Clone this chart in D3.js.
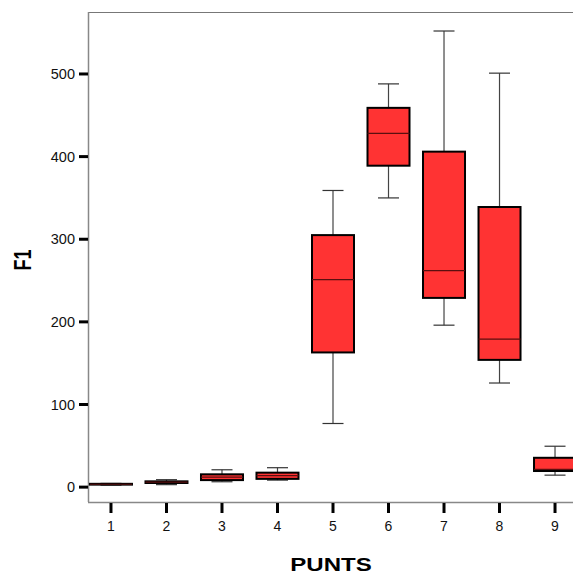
<!DOCTYPE html>
<html>
<head>
<meta charset="utf-8">
<script src="https://cdn.jsdelivr.net/npm/d3@7"></script>
<style>
  body { margin: 0; background: #fff; }
  svg { display: block; }
</style>
</head>
<body>
<svg></svg>
<script>
//--Data
const punts = [1, 2, 3, 4, 5, 6, 7, 8, 9];
const f1Min = [2.5, 3, 6.5, 8.5, 77, 350, 196, 126, 14.5];
const f1Q1 = [3, 5, 8.5, 10, 163, 389, 229, 154, 19.5];
const f1Median = [3.5, 6, 12, 14, 251, 428, 262, 179, 21.5];
const f1Q3 = [4, 7, 15.5, 17.5, 305, 459, 406, 339, 35.5];
const f1Max = [4.5, 9, 21, 23.5, 359, 488, 552, 501, 49.5];
const yTicks = [0, 100, 200, 300, 400, 500];

//Shared info
const canvas = {
  width: 573,
  height: 577,
  left: 88,
  top: 12,
  bottom: 502,
  boxWidth: 42,
  fill: "#ff3333"
};

const boxes = punts.map((p, i) => ({
  punt: p, min: f1Min[i], q1: f1Q1[i], median: f1Median[i], q3: f1Q3[i], max: f1Max[i]
}));

const x = d3.scaleLinear().domain([0.586, 9.414]).range([canvas.left, 578]);
const y = d3.scaleLinear().domain([-18, 575]).range([canvas.bottom, canvas.top]);

const root = d3.select("svg")
  .attr("width", canvas.width)
  .attr("height", canvas.height);

//--Frame
root.append("line")
  .attr("x1", canvas.left).attr("x2", canvas.width)
  .attr("y1", canvas.top + 0.5).attr("y2", canvas.top + 0.5)
  .attr("stroke", "#777").attr("stroke-width", 1);
root.append("line")
  .attr("x1", canvas.left).attr("x2", canvas.width)
  .attr("y1", canvas.bottom + 0.5).attr("y2", canvas.bottom + 0.5)
  .attr("stroke", "#888").attr("stroke-width", 1.5);
root.append("line")
  .attr("x1", canvas.left + 0.5).attr("x2", canvas.left + 0.5)
  .attr("y1", canvas.top).attr("y2", canvas.bottom)
  .attr("stroke", "#888").attr("stroke-width", 1.5);

//--Y axis
const yAxis = root.append("g").attr("class", "y-axis");
yTicks.forEach(t => {
  yAxis.append("line")
    .attr("x1", canvas.left - 9).attr("x2", canvas.left)
    .attr("y1", y(t)).attr("y2", y(t))
    .attr("stroke", "#000").attr("stroke-width", 3);
  yAxis.append("text")
    .attr("x", canvas.left - 13)
    .attr("y", y(t))
    .attr("dy", "0.36em")
    .attr("text-anchor", "end")
    .style("font-family", "Liberation Sans, Arial, sans-serif")
    .style("font-size", "14.5px")
    .attr("fill", "#111")
    .text(t);
});

//--X axis
const xAxis = root.append("g").attr("class", "x-axis");
punts.forEach(p => {
  xAxis.append("line")
    .attr("x1", x(p)).attr("x2", x(p))
    .attr("y1", canvas.bottom + 1).attr("y2", canvas.bottom + 11)
    .attr("stroke", "#000").attr("stroke-width", 3);
  xAxis.append("text")
    .attr("x", x(p))
    .attr("y", 531)
    .attr("text-anchor", "middle")
    .style("font-family", "Liberation Sans, Arial, sans-serif")
    .style("font-size", "14px")
    .attr("fill", "#111")
    .text(p);
});

//--Axis titles (the picture stretches them sideways)
root.append("text")
  .attr("transform", "translate(30.5,260)rotate(-90)scale(1,1.3)")
  .attr("text-anchor", "middle")
  .style("font-family", "Liberation Sans, Arial, sans-serif")
  .style("font-size", "18px")
  .style("font-weight", "bold")
  .text("F1");
root.append("text")
  .attr("transform", "translate(331,570.5)scale(1.3,1)")
  .attr("text-anchor", "middle")
  .style("font-family", "Liberation Sans, Arial, sans-serif")
  .style("font-size", "18.5px")
  .style("font-weight", "bold")
  .text("PUNTS");

//--Box plots
const g = root.append("g").classed("box-plot", true);
const box = g.selectAll("g").data(boxes).enter().append("g");

//Whiskers
box.append("line")
  .attr("x1", d => x(d.punt)).attr("x2", d => x(d.punt))
  .attr("y1", d => y(d.max)).attr("y2", d => y(d.q3))
  .attr("stroke", "#444").attr("stroke-width", 1.2);
box.append("line")
  .attr("x1", d => x(d.punt)).attr("x2", d => x(d.punt))
  .attr("y1", d => y(d.q1)).attr("y2", d => y(d.min))
  .attr("stroke", "#444").attr("stroke-width", 1.2);
["max", "min"].forEach(k => {
  box.append("line")
    .attr("x1", d => x(d.punt) - canvas.boxWidth / 4)
    .attr("x2", d => x(d.punt) + canvas.boxWidth / 4)
    .attr("y1", d => y(d[k])).attr("y2", d => y(d[k]))
    .attr("stroke", "#333").attr("stroke-width", 1.2);
});

//Boxes
box.append("rect")
  .attr("x", d => x(d.punt) - canvas.boxWidth / 2)
  .attr("y", d => y(d.q3))
  .attr("width", canvas.boxWidth)
  .attr("height", d => y(d.q1) - y(d.q3))
  .attr("fill", canvas.fill)
  .attr("stroke", "#000")
  .attr("stroke-width", 2);

//Medians
box.append("line")
  .attr("x1", d => x(d.punt) - canvas.boxWidth / 2)
  .attr("x2", d => x(d.punt) + canvas.boxWidth / 2)
  .attr("y1", d => y(d.median)).attr("y2", d => y(d.median))
  .attr("stroke", "#5a0f0f").attr("stroke-width", 1.2);
</script>
</body>
</html>
